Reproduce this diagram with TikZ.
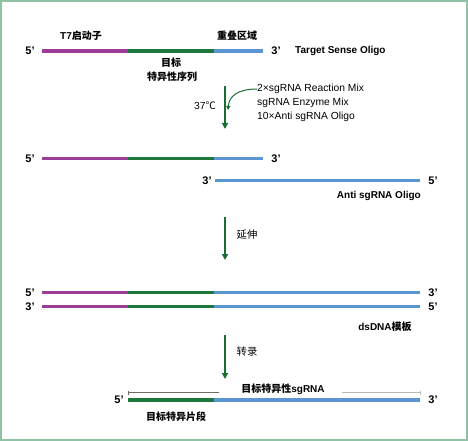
\documentclass[tikz,border=0pt]{standalone}
\usepackage{fontspec}
\setmainfont{Liberation Sans}
\newfontfamily\cjk{Noto Sans CJK SC}
\usetikzlibrary{arrows.meta}
\definecolor{framec}{HTML}{8FC1A5}
\definecolor{purp}{HTML}{9B3D97}
\definecolor{dgreen}{HTML}{1D773D}
\definecolor{lblue}{HTML}{5B96D3}
\definecolor{agreen}{HTML}{1B6E33}
\tikzset{
  strand/.style={line width=3.5pt},
  pur/.style={strand,draw=purp},
  grn/.style={strand,draw=dgreen},
  blu/.style={strand,draw=lblue},
  endlab/.style={font=\bfseries\fontsize{11}{12}\selectfont,inner sep=0pt},
  lab/.style={font=\bfseries\fontsize{10}{12}\selectfont,inner sep=0pt},
  reg/.style={font=\fontsize{10.3}{14}\selectfont,inner sep=0pt},
  steparrow/.style={draw=agreen,line width=2pt,-{Triangle[length=6pt,width=6pt]}},
}
\begin{document}
\begin{tikzpicture}[x=1pt,y=-1pt]
\useasboundingbox (0,0) rectangle (468,441);
\draw[framec,line width=2pt] (1,1) rectangle (467,440);

% ---- row 1: Target Sense Oligo
\coordinate (r1a) at (42,51); \coordinate (r1b) at (128,51);
\coordinate (r1c) at (214,51); \coordinate (r1d) at (263,51);
\draw[pur] (r1a) -- (r1b); \draw[grn] (r1b) -- (r1c); \draw[blu] (r1c) -- (r1d);
\node[endlab] (r1l) at (30,51) {5’};
\node[endlab] (r1r) at (276,51) {3’};
\node[lab,anchor=west] (tso) at (295,51) {Target Sense Oligo};
\node[lab] (t7) at (81,36) {T7{\cjk 启动子}};
\node[lab] (olap) at (237,36) {\cjk 重叠区域};
\node[lab] (tg1) at (171,63) {\cjk 目标};
\node[lab] (tg2) at (172,77) {\cjk 特异性序列};

% ---- arrow 1
\coordinate (a1s) at (225,86); \coordinate (a1e) at (225,129);
\draw[steparrow] (a1s) -- (a1e);
\node[reg] (temp) at (205,106) {37{\cjk ℃}};
\node[reg,anchor=west] (rg1) at (257,89) {2×sgRNA Reaction Mix};
\node[reg,anchor=west] (rg2) at (257,103) {sgRNA Enzyme Mix};
\node[reg,anchor=west] (rg3) at (257,117) {10×Anti sgRNA Oligo};
\coordinate (cv) at (228,110);
\draw[agreen,line width=1pt,-{Triangle[length=4pt,width=4pt]}] (rg1.west) .. controls (238,89) and (229,96) .. (cv);

% ---- row 2
\coordinate (r2a) at (42,158.5); \coordinate (r2b) at (128,158.5);
\coordinate (r2c) at (214,158.5); \coordinate (r2d) at (263,158.5);
\draw[pur] (r2a) -- (r2b); \draw[grn] (r2b) -- (r2c); \draw[blu] (r2c) -- (r2d);
\node[endlab] (r2l) at (30,158.5) {5’};
\node[endlab] (r2r) at (276,158.5) {3’};
\coordinate (r3a) at (215,180.5); \coordinate (r3b) at (420,180.5);
\draw[blu] (r3a) -- (r3b);
\node[endlab] (r3l) at (207,180.5) {3’};
\node[endlab] (r3r) at (433,180.5) {5’};
\node[lab,anchor=east] (aso) at (421,196) {Anti sgRNA Oligo};

% ---- arrow 2
\coordinate (a2s) at (225,217); \coordinate (a2e) at (225,260);
\draw[steparrow] (a2s) -- (a2e);
\node[reg] (ext) at (247,235) {\cjk 延伸};

% ---- row 3: dsDNA
\coordinate (r4a) at (42,292.3); \coordinate (r4b) at (128,292.3);
\coordinate (r4c) at (214,292.3); \coordinate (r4d) at (420,292.3);
\draw[pur] (r4a) -- (r4b); \draw[grn] (r4b) -- (r4c); \draw[blu] (r4c) -- (r4d);
\coordinate (r5a) at (42,306.3); \coordinate (r5b) at (128,306.3);
\coordinate (r5c) at (214,306.3); \coordinate (r5d) at (420,306.3);
\draw[pur] (r5a) -- (r5b); \draw[grn] (r5b) -- (r5c); \draw[blu] (r5c) -- (r5d);
\node[endlab] (r4l) at (30,292.3) {5’};
\node[endlab] (r4r) at (433,292.3) {3’};
\node[endlab] (r5l) at (30,306.3) {3’};
\node[endlab] (r5r) at (433,306.3) {5’};
\node[lab] (ds) at (385,327) {dsDNA{\cjk 模板}};

% ---- arrow 3
\coordinate (a3s) at (225,335); \coordinate (a3e) at (225,379);
\draw[steparrow] (a3s) -- (a3e);
\node[reg] (tr) at (247,352) {\cjk 转录};

% ---- row 4: sgRNA
\coordinate (r6b) at (128,400); \coordinate (r6c) at (214,400); \coordinate (r6d) at (420,400);
\draw[grn] (r6b) -- (r6c); \draw[blu] (r6c) -- (r6d);
\node[endlab] (r6l) at (119,400) {5’};
\node[endlab] (r6r) at (433,400) {3’};
\node[lab] (sg) at (283,389) {{\cjk 目标特异性}sgRNA};
\coordinate (bl) at (128,392.3); \coordinate (blm) at (219,392.3);
\coordinate (brm) at (342,392.3); \coordinate (br) at (420,392.3);
\draw[gray!85!black,line width=0.8pt] (blm) -- (bl) ++(0,-1.5) -- ++(0,4.5);
\draw[gray!55,line width=0.9pt] (brm) -- (br) ++(0,-1.5) -- ++(0,4.5);
\node[lab] (frag) at (176,417) {\cjk 目标特异片段};
\end{tikzpicture}
\end{document}
